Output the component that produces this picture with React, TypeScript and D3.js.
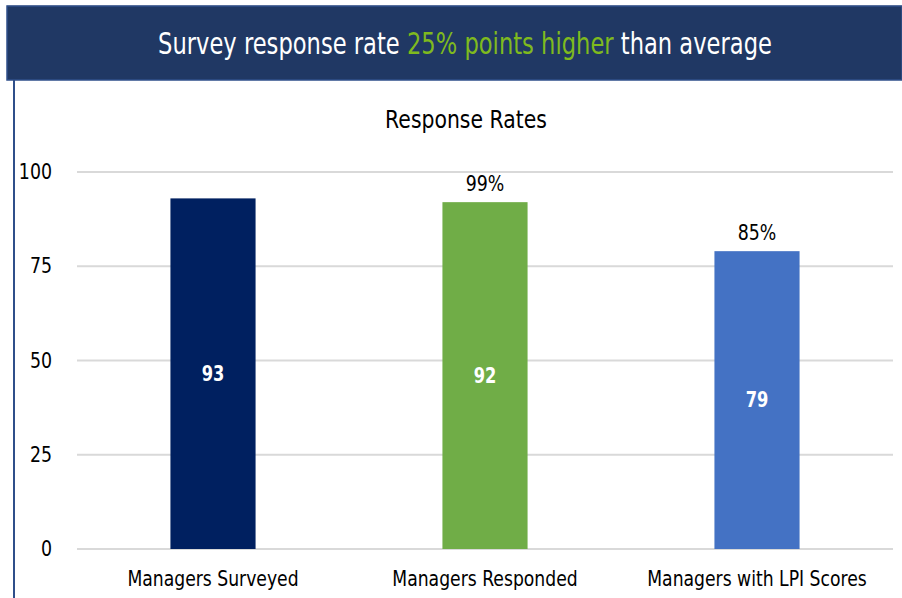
import React from 'react';
import { scaleBand, scaleLinear } from 'd3';

const categories = ['Managers Surveyed', 'Managers Responded', 'Managers with LPI Scores'];
const values = [93, 92, 79];
const rateLabels = ['', '99%', '85%'];
const colors = ['#002060', '#70AD47', '#4472C4'];
const ticks = [0, 25, 50, 75, 100];

const W = 902;
const H = 598;
const font = "'DejaVu Sans', sans-serif";

// narrow text, the original uses a condensed face
function CText({ x, y, sx = 0.8, anchor = 'middle', children, ...rest }: any) {
  return (
    <text transform={`translate(${x},${y}) scale(${sx},1)`} textAnchor={anchor} {...rest}>
      {children}
    </text>
  );
}

export default function App() {
  const x = scaleBand<string>().domain(categories).range([77, 893]).padding(0);
  const y = scaleLinear().domain([0, 100]).range([549, 172]);
  const barW = x.bandwidth() * 0.313;

  return (
    <svg width={W} height={H} style={{ position: 'absolute', left: 0, top: 0 }} fontFamily={font}>
      <rect width={W} height={H} fill="#fff" />
      {/* header banner */}
      <line x1={7} x2={W} y1={5.5} y2={5.5} stroke="#d0d0d0" strokeWidth={1} />
      <rect x={7} y={6} width={W - 7} height={74} fill="#203864" stroke="#2f4f8a" strokeWidth={1.5} />
      <CText x={465} y={54} sx={0.73} fontSize={31} fill="#fff">
        Survey response rate <tspan fill="#7fba1e">25% points higher</tspan> than average
      </CText>
      <line x1={14} x2={14} y1={80} y2={H} stroke="#2f4f8a" strokeWidth={2} />

      <CText x={466} y={128} sx={0.85} fontSize={24} fill="#000">Response Rates</CText>

      {ticks.map(t => (
        <g key={t}>
          <line x1={77} x2={893} y1={y(t)} y2={y(t)} stroke="#d9d9d9" strokeWidth={2} />
          <CText x={52} y={y(t) + 7} sx={0.79} anchor="end" fontSize={22} fill="#000">{t}</CText>
        </g>
      ))}

      {categories.map((c, i) => {
        const cx = (x(c) as number) + x.bandwidth() / 2;
        const top = y(values[i]);
        return (
          <g key={c}>
            <rect x={cx - barW / 2} y={top} width={barW} height={y(0) - top} fill={colors[i]} />
            <CText x={cx} y={(top + y(0)) / 2 + 7} sx={0.74} fontSize={22} fontWeight="bold" fill="#fff">
              {values[i]}
            </CText>
            {rateLabels[i] && (
              <CText x={cx} y={top - 11} sx={0.79} fontSize={22} fill="#000">{rateLabels[i]}</CText>
            )}
            <CText x={cx} y={586} sx={0.82} fontSize={21} fill="#000">{c}</CText>
          </g>
        );
      })}
    </svg>
  );
}
